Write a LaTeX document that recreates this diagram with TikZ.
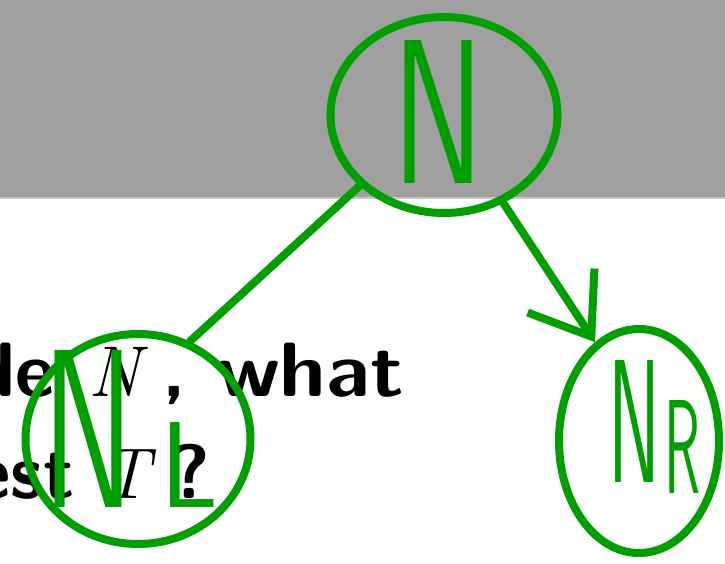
\documentclass[tikz,border=0pt]{standalone}
\usepackage{tikz}
\usetikzlibrary{arrows.meta,shapes.geometric,positioning}
\definecolor{pen}{RGB}{0,158,0}
\definecolor{slidegray}{RGB}{160,160,160}
\newcommand{\mvar}[1]{{\fontsize{72}{86}\selectfont\rmfamily\mdseries\itshape #1\/}}

\tikzset{
  ink/.style={draw=pen,line width=8pt,line cap=round,line join=round},
  blob/.style={ink,ellipse,inner sep=0pt},
  scrawl/.style={text=pen,inner sep=0pt,font=\sffamily},
  slidetext/.style={inner sep=0pt,font=\fontsize{77}{92}\selectfont\sffamily\bfseries}
}

\begin{document}
\begin{tikzpicture}[x=1pt,y=-1pt]
 \useasboundingbox (0,0) rectangle (725,564);
 % slide underneath
 \fill[slidegray] (0,0) rectangle (725,197);
 \fill[gray!45] (0,197) rectangle (725,199);
 \node[slidetext,anchor=base east] (line1) at (404,396)
   {de \hspace{5pt}\mvar{N}\hspace{14pt}, \hspace{4pt}\scalebox{1.08}[1]{what}};
 \node[slidetext,anchor=base east] (line2) at (211,498)
   {est \hspace{-3pt}\mvar{T}\hspace{14pt}?};
 % tree drawn on top
 \node[blob,minimum width=227pt,minimum height=196pt] (N) at (444,115) {};
 \node[blob,minimum width=225pt,minimum height=210pt] (NL) at (138,439) {};
 \node[blob,minimum width=160pt,minimum height=224pt] (NR) at (639,441) {};
 \node[scrawl,anchor=base west] (Ntxt) at (392,183) {\resizebox{92pt}{143pt}{N}};
 \node[scrawl,anchor=base west] (NLtxt) at (42,507)
   {\resizebox{92pt}{157pt}{N}\hspace{26pt}\resizebox{58pt}{85pt}{L}};
 \node[scrawl,anchor=base west] (NRtxt) at (608,482)
   {\resizebox{52pt}{122pt}{N}\hspace{4pt}\raisebox{-11pt}{\resizebox{36pt}{93pt}{R}}};
 \draw[ink] (N.-140) -- (NL.62);
 \draw[ink,-{Straight Barb[length=55pt,width=80pt]}] (N.-56) -- (NR.114);
\end{tikzpicture}
\end{document}
